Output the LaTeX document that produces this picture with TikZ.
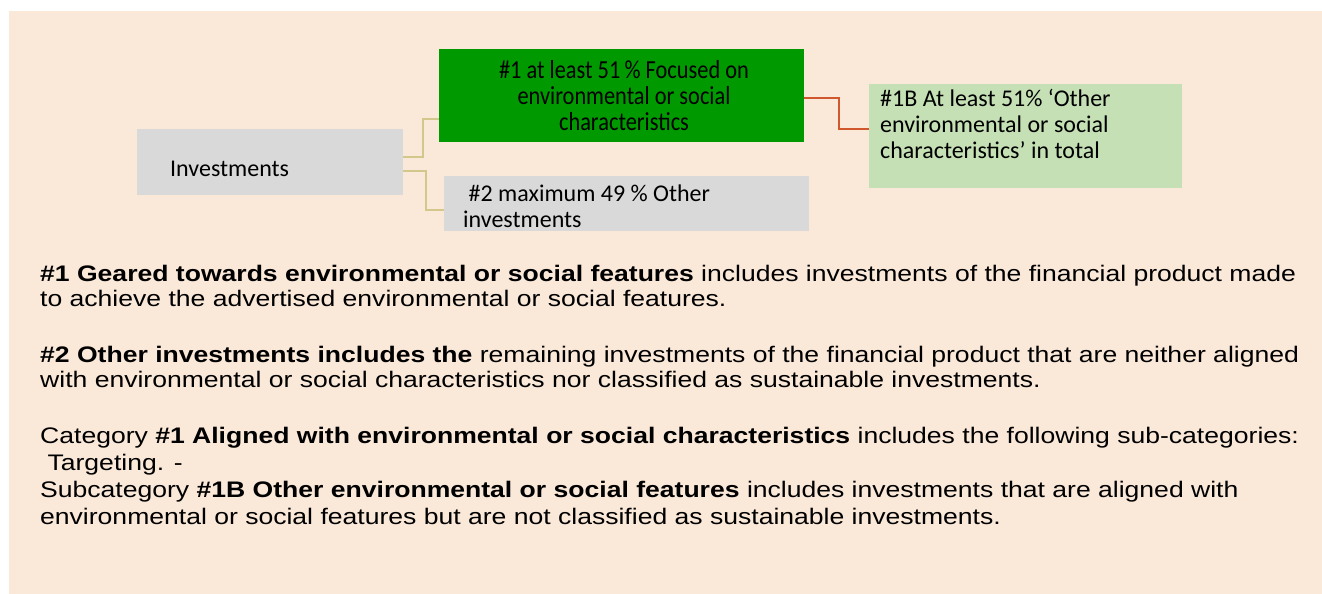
\documentclass[tikz,border=0pt]{standalone}
\usepackage{fontspec}
\usetikzlibrary{calc}
\setmainfont{Liberation Sans}[FakeStretch=1.18]
\newfontfamily\boxfont{Carlito}
\newfontfamily\condfont{Carlito}[FakeStretch=0.86]
\definecolor{bgpeach}{HTML}{FAE8D8}
\definecolor{boxgray}{HTML}{D9D9D9}
\definecolor{boxgreen}{HTML}{009900}
\definecolor{lightgreen}{HTML}{C5E0B4}
\definecolor{tanline}{HTML}{D4C78C}
\definecolor{redline}{HTML}{D0582C}
\tikzset{
  boxbase/.style={rectangle, inner sep=0pt, outer sep=0pt},
  boxtext/.style={inner sep=0pt, font=\boxfont\fontsize{24}{26}\selectfont},
  tanconn/.style={draw=tanline, line width=2pt},
  redconn/.style={draw=redline, line width=2pt},
  bodyline/.style={anchor=base west, inner sep=0pt, font=\fontsize{22.5}{25}\selectfont},
}
\begin{document}
\begin{tikzpicture}[x=1pt,y=-1pt]
\useasboundingbox (0,0) rectangle (1322,594);
\fill[bgpeach] (9,11) rectangle (1322,594);

% boxes
\node[boxbase, fill=boxgray, minimum width=266, minimum height=66, anchor=north west] (inv) at (137,129) {};
\node[boxtext, anchor=base west] (invtext) at (170,176) {Investments};

\node[boxbase, fill=boxgreen, minimum width=365, minimum height=93, anchor=north west] (grn) at (439,49) {};
\node[anchor=center, inner sep=0pt, align=center, font=\condfont\fontsize{26}{26}\selectfont] (grntext) at (624,96)
  {\#1 at least 51\,\% Focused on\\environmental or social\\characteristics};

\node[boxbase, fill=boxgray, minimum width=365, minimum height=55, anchor=north west] (oth) at (444,176) {};
\node[boxtext, anchor=north west, align=left] (othtext) at (463,185)
  {\ \#2 maximum 49 \% Other\\investments};

\node[boxbase, fill=lightgreen, minimum width=313, minimum height=104, anchor=north west] (oes) at (869,84) {};
\node[boxtext, anchor=north west, align=left] (oestext) at (880,89)
  {\#1B At least 51\% ‘Other\\environmental or social\\characteristics’ in total};

% connectors
\draw[tanconn] ($(inv.north east)+(0,28)$) -- ++(20,0) |- ($(grn.south west)+(0,-23)$);
\draw[tanconn] ($(inv.south east)+(0,-24)$) -- ++(23,0) |- ($(oth.south west)+(0,-21)$);
\draw[redconn] ($(grn.east)+(0,2)$) -- ++(35,0) |- ($(oes.north west)+(0,45)$);

% body text
\node[bodyline] (b1) at (40,281) {\textbf{\#1 Geared towards environmental or social features} includes investments of the financial product made};
\node[bodyline] (b2) at (40,306) {to achieve the advertised environmental or social features.};
\node[bodyline] (b3) at (40,362) {\textbf{\#2 Other investments includes the} remaining investments of the financial product that are neither aligned};
\node[bodyline] (b4) at (40,387) {with environmental or social characteristics nor classified as sustainable investments.};
\node[bodyline] (b5) at (40,443) {Category \textbf{\#1 Aligned with environmental or social characteristics} includes the following sub-categories:};
\node[bodyline] (b6) at (40,470) {\ Targeting. -};
\node[bodyline] (b7) at (40,497) {Subcategory \textbf{\#1B Other environmental or social features} includes investments that are aligned with};
\node[bodyline] (b8) at (40,524) {environmental or social features but are not classified as sustainable investments.};
\end{tikzpicture}
\end{document}
